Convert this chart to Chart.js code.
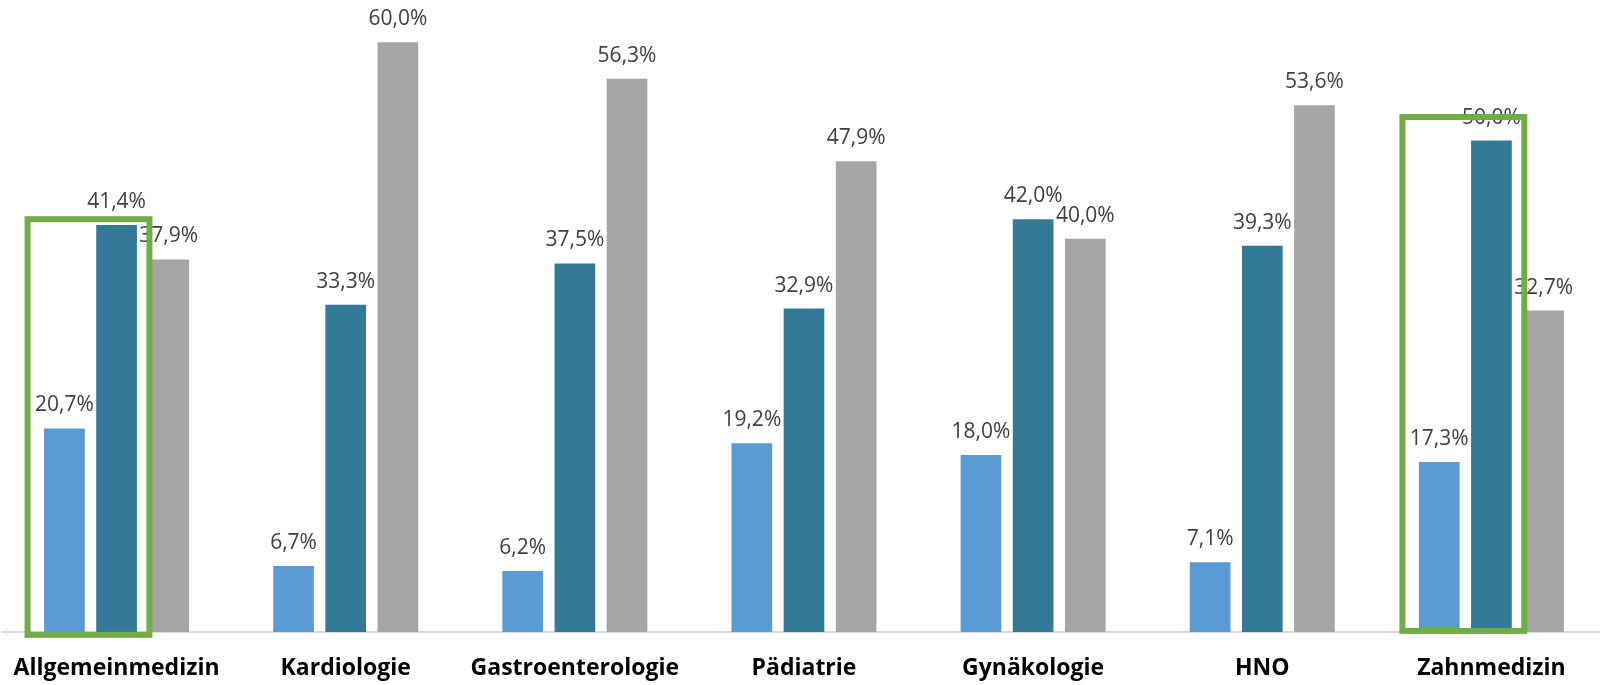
<!DOCTYPE html>
<html>
<head>
<meta charset="utf-8">
<script src="https://cdn.jsdelivr.net/npm/chart.js@4.4.1/dist/chart.umd.min.js"></script>
<style>
  html, body { margin: 0; padding: 0; background: #fff; overflow: hidden; }
  #wrap { width: 1600px; height: 685px; overflow: hidden; }
</style>
</head>
<body>
<div id="wrap"><canvas id="myChart" width="1606" height="685"></canvas></div>
<script>
// Kategorien und Werte (in %)
const categories = ['Allgemeinmedizin', 'Kardiologie', 'Gastroenterologie', 'Pädiatrie', 'Gynäkologie', 'HNO', 'Zahnmedizin'];
const series1 = [20.7, 6.7, 6.2, 19.2, 18.0, 7.1, 17.3];
const series2 = [41.4, 33.3, 37.5, 32.9, 42.0, 39.3, 50.0];
const series3 = [37.9, 60.0, 56.3, 47.9, 40.0, 53.6, 32.7];

// green highlight boxes: category index + top/bottom in axis units
const highlightCats = [0, 6];
const highlightTop = [42.0, 52.4];
const highlightBottom = [-0.3, 0.1];

const fmt = v => v.toFixed(1).replace('.', ',') + '%';

const labelsAndBoxes = {
    id: 'labelsAndBoxes',
    afterDatasetsDraw(chart) {
        const ctx = chart.ctx;
        ctx.save();
        // value labels above bars
        ctx.font = '21px "Open Sans"';
        ctx.fillStyle = '#404040';
        ctx.textAlign = 'center';
        ctx.textBaseline = 'alphabetic';
        chart.data.datasets.forEach((ds, i) => {
            chart.getDatasetMeta(i).data.forEach((bar, j) => {
                ctx.fillText(fmt(ds.data[j]), bar.x, bar.y - 17);
            });
        });
        // green boxes drawn on top
        const y = chart.scales.y;
        ctx.strokeStyle = '#70AD47';
        ctx.lineWidth = 6;
        highlightCats.forEach((c, k) => {
            const b0 = chart.getDatasetMeta(0).data[c];
            const b1 = chart.getDatasetMeta(1).data[c];
            const left = b0.x - b0.width / 2 - 16.5;
            const right = b1.x + b1.width / 2 + 12.5;
            const top = y.getPixelForValue(highlightTop[k]);
            const bottom = y.getPixelForValue(highlightBottom[k]);
            ctx.strokeRect(left, top, right - left, bottom - top);
        });
        ctx.restore();
    }
};

const ctx = document.getElementById('myChart').getContext('2d');
const myChart = new Chart(ctx, {
    type: 'bar',
    data: {
        labels: categories,
        datasets: [
            { label: 'Reihe 1', data: series1, backgroundColor: '#5B9BD5' },
            { label: 'Reihe 2', data: series2, backgroundColor: '#327A98' },
            { label: 'Reihe 3', data: series3, backgroundColor: '#A5A5A5' }
        ]
    },
    options: {
        responsive: false,
        animation: false,
        categoryPercentage: 0.683,
        barPercentage: 0.78,
        layout: { padding: { top: 3, left: 2, right: 0, bottom: -21 } },
        plugins: {
            legend: { display: false },
            tooltip: { enabled: false }
        },
        scales: {
            x: {
                grid: { display: false, drawTicks: false },
                border: { color: '#D9D9D9', width: 2 },
                ticks: {
                    color: '#000',
                    padding: 6,
                    font: { family: '"Open Sans"', size: 23, weight: 'bold', lineHeight: 2.7 }
                }
            },
            y: {
                display: false,
                min: 0,
                max: 64
            }
        }
    },
    plugins: [labelsAndBoxes]
});
</script>
</body>
</html>
